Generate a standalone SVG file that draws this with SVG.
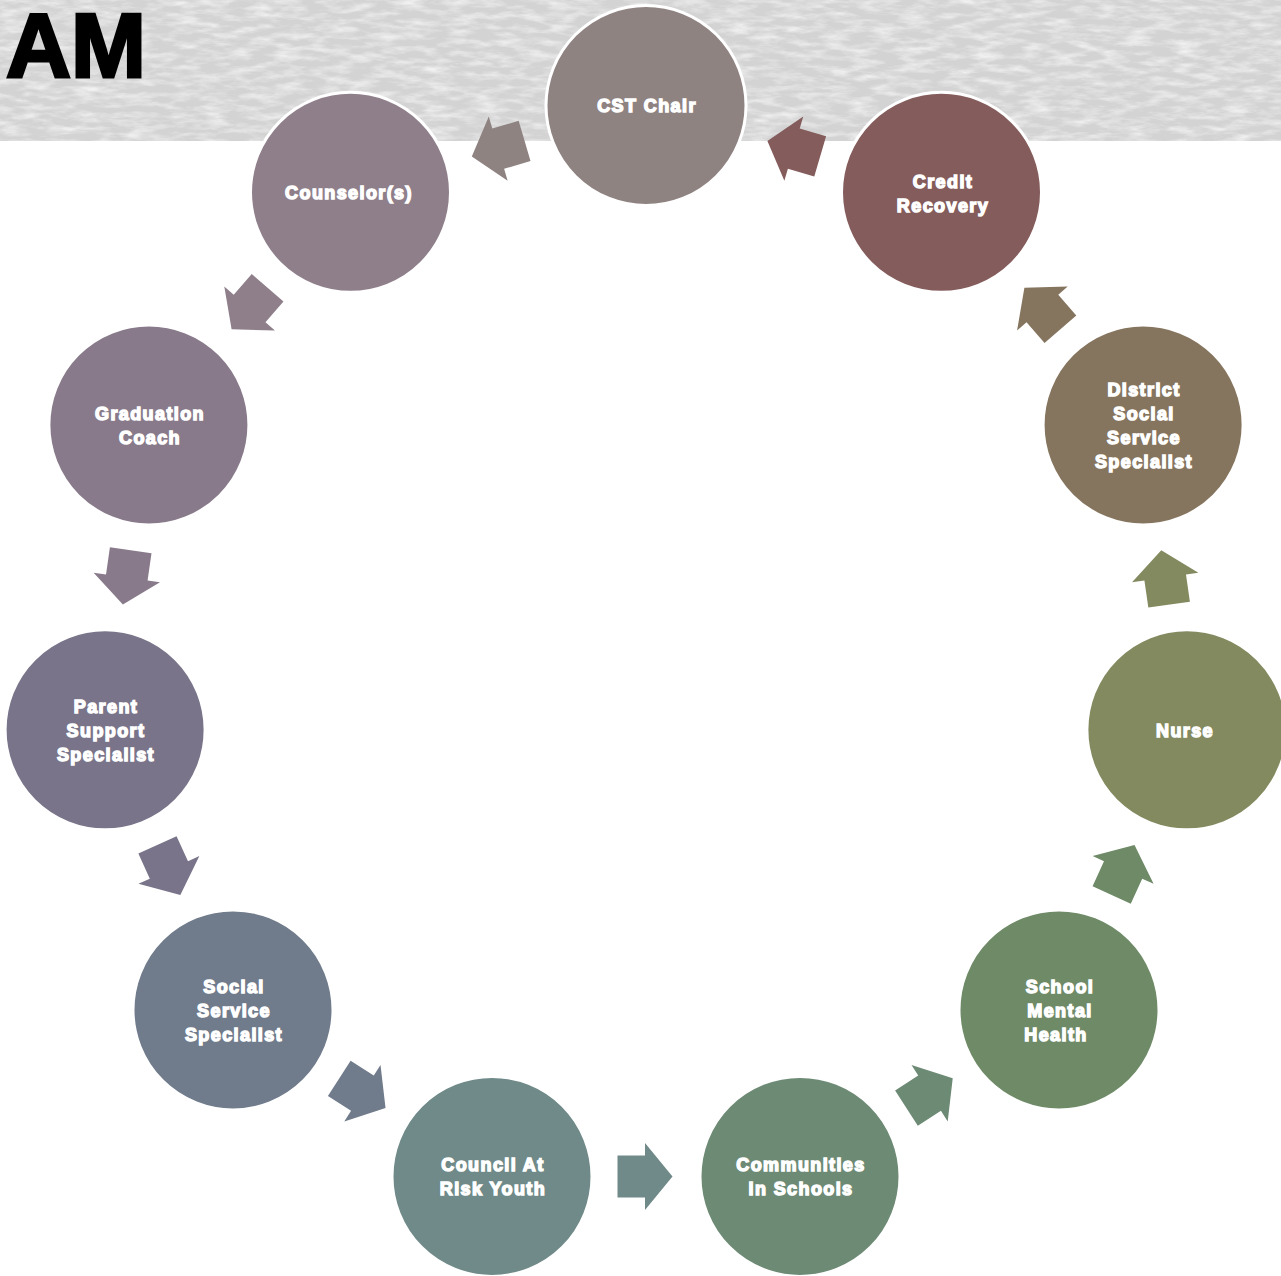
<svg xmlns="http://www.w3.org/2000/svg" width="1281" height="1276" viewBox="0 0 1281 1276">
<defs>
<filter id="tex" x="0" y="0" width="100%" height="100%">
<feTurbulence type="fractalNoise" baseFrequency="0.04 0.15" numOctaves="4" seed="7"/>
<feColorMatrix type="matrix" values="0 0 0 0 1  0 0 0 0 1  0 0 0 0 1  1.4 0 0 0 -0.55"/>
</filter>
<path id="arr" d="M -27.5,-21 L 0,-21 L 0,-33.5 L 27.5,0 L 0,33.5 L 0,21 L -27.5,21 Z"/>
</defs>
<style>
.node circle { stroke: #FFFFFF; stroke-width: 3; }
.node text { fill: #FFFFFF; stroke: #FFFFFF; stroke-width: 1.4; font-family: "Liberation Sans", Arial, sans-serif; font-weight: bold; font-size: 18px; letter-spacing: 1.4px; text-anchor: middle; }
.title { fill: #000000; stroke: #000000; stroke-width: 3; font-family: "Liberation Sans", Arial, sans-serif; font-weight: bold; font-size: 90px; }
</style>
<rect x="0" y="0" width="1281" height="1276" fill="#FFFFFF"/>
<g id="banner">
<rect x="0" y="0" width="1281" height="141" fill="#D3D3D3"/>
<rect x="0" y="0" width="1281" height="141" filter="url(#tex)"/>
<text class="title" x="6" y="77">AM</text>
</g>
<g id="connectors">
<use href="#arr" fill="#8F8382" transform="translate(498.2,148.7) rotate(163.64)"/>
<use href="#arr" fill="#8F7F8A" transform="translate(249.6,308.5) rotate(130.91)"/>
<use href="#arr" fill="#887A8A" transform="translate(126.8,577.4) rotate(98.18)"/>
<use href="#arr" fill="#797489" transform="translate(168.9,869.9) rotate(65.45)"/>
<use href="#arr" fill="#707B8B" transform="translate(362.4,1093.2) rotate(32.73)"/>
<use href="#arr" fill="#6F8A88" transform="translate(645,1176.5) rotate(0)"/>
<use href="#arr" fill="#6D8A75" transform="translate(929.6,1093.2) rotate(-32.73)"/>
<use href="#arr" fill="#6E8A67" transform="translate(1123.1,869.9) rotate(-65.45)"/>
<use href="#arr" fill="#838A5F" transform="translate(1165.2,577.4) rotate(-98.18)"/>
<use href="#arr" fill="#86755E" transform="translate(1042.4,308.5) rotate(-130.91)"/>
<use href="#arr" fill="#855C5C" transform="translate(793.8,148.7) rotate(-163.64)"/>
</g>
<g id="n-cst" class="node"><circle cx="646" cy="105.5" r="100" fill="#8F8382"/><text x="647" y="112">CST Chair</text></g>
<g id="n-counselor" class="node"><circle cx="350.5" cy="192.3" r="100" fill="#8F7F8A"/><text x="349" y="199">Counselor(s)</text></g>
<g id="n-graduation" class="node"><circle cx="148.9" cy="425" r="100" fill="#887A8A"/><text x="150" y="419.5">Graduation</text><text x="150" y="443.5">Coach</text></g>
<g id="n-parent" class="node"><circle cx="105.1" cy="729.8" r="100" fill="#797489"/><text x="106" y="712.5">Parent</text><text x="106" y="736.5">Support</text><text x="106" y="760.5">Specialist</text></g>
<g id="n-social" class="node"><circle cx="233" cy="1009.9" r="100" fill="#707B8B"/><text x="234" y="992.5">Social</text><text x="234" y="1016.5">Service</text><text x="234" y="1040.5">Specialist</text></g>
<g id="n-council" class="node"><circle cx="492" cy="1176.4" r="100" fill="#6F8A88"/><text x="493" y="1170.5">Council At</text><text x="493" y="1194.5">Risk Youth</text></g>
<g id="n-communities" class="node"><circle cx="800" cy="1176.4" r="100" fill="#6D8A75"/><text x="801" y="1170.5">Communities</text><text x="801" y="1194.5">In Schools</text></g>
<g id="n-schoolmh" class="node"><circle cx="1059" cy="1009.9" r="100" fill="#6E8A67"/><text x="1060" y="992.5">School</text><text x="1060" y="1016.5">Mental</text><text x="1056" y="1040.5">Health</text></g>
<g id="n-nurse" class="node"><circle cx="1186.9" cy="729.8" r="100" fill="#838A5F"/><text x="1185" y="736.5">Nurse</text></g>
<g id="n-district" class="node"><circle cx="1143.1" cy="425" r="100" fill="#86755E"/><text x="1144" y="395.5">District</text><text x="1144" y="419.5">Social</text><text x="1144" y="443.5">Service</text><text x="1144" y="467.5">Specialist</text></g>
<g id="n-credit" class="node"><circle cx="941.5" cy="192.3" r="100" fill="#855C5C"/><text x="943" y="187.5">Credit</text><text x="943" y="211.5">Recovery</text></g>
</svg>
